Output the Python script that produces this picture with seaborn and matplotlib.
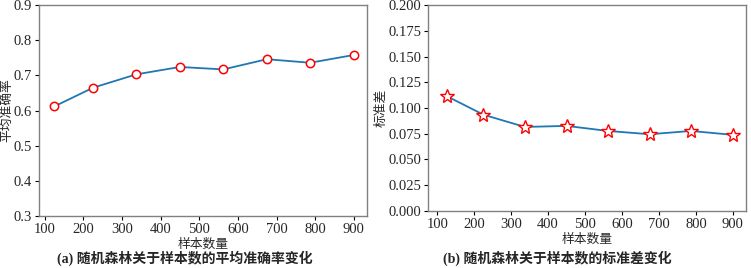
import matplotlib
matplotlib.use('Agg')
import matplotlib.pyplot as plt
import seaborn as sns
import pandas as pd

sns.set_style('ticks')
plt.rcParams['font.family'] = ['Liberation Serif', 'Noto Sans CJK SC']
plt.rcParams['axes.unicode_minus'] = False

# sample sizes and results
n_samples = [125, 225, 337, 450, 562, 675, 787, 900]
mean_acc = [0.612, 0.665, 0.703, 0.724, 0.717, 0.746, 0.736, 0.758]
std_acc = [0.1116, 0.0935, 0.0816, 0.0826, 0.0777, 0.0745, 0.0777, 0.0739]

acc_ticks = [0.3, 0.4, 0.5, 0.6, 0.7, 0.8, 0.9]
std_ticks = [0.000, 0.025, 0.050, 0.075, 0.100, 0.125, 0.150, 0.175, 0.200]
x_ticks = [100, 200, 300, 400, 500, 600, 700, 800, 900]

df = pd.DataFrame({'n': n_samples, 'mean': mean_acc, 'std': std_acc})

fig = plt.figure(figsize=(7.51, 2.68), dpi=100)
ax1 = fig.add_axes([0.052, 0.194, 0.437, 0.787])
ax2 = fig.add_axes([0.570, 0.213, 0.423, 0.768])

fs = 10.5
cjk = 9.2
grey = '#808080'

sns.lineplot(data=df, x='n', y='mean', ax=ax1, color='#1f77b4', lw=1.3,
             marker='o', markersize=6, markerfacecolor='white',
             markeredgecolor='red', markeredgewidth=1.1)
sns.lineplot(data=df, x='n', y='std', ax=ax2, color='#1f77b4', lw=1.3,
             marker='*', markersize=10, markerfacecolor='white',
             markeredgecolor='red', markeredgewidth=1.0)

ax1.set_ylim(0.3, 0.9)
ax1.set_yticks(acc_ticks)
ax1.set_yticklabels([f'{t:.1f}' for t in acc_ticks])
ax1.set_xlim(85, 935)
ax1.set_ylabel('平均准确率', fontsize=cjk)
ax1.yaxis.set_label_coords(-0.080, 0.5)

ax2.set_ylim(0, 0.2)
ax2.set_yticks(std_ticks)
ax2.set_yticklabels([f'{t:.3f}' for t in std_ticks])
ax2.set_xlim(75, 935)
ax2.set_ylabel('标准差', fontsize=cjk)
ax2.yaxis.set_label_coords(-0.126, 0.5)

for ax in (ax1, ax2):
    ax.set_xticks(x_ticks)
    ax.set_xlabel('样本数量', fontsize=cjk, labelpad=2)
    ax.tick_params(labelsize=fs, length=3, width=0.8, color='black', pad=2)
    for s in ax.spines.values():
        s.set_color(grey)
        s.set_linewidth(1.0)

fig.text(0.246, 0.02, '(a) 随机森林关于样本数的平均准确率变化', ha='center',
         fontsize=10, fontweight='bold')
fig.text(0.742, 0.02, '(b) 随机森林关于样本数的标准差变化', ha='center',
         fontsize=10, fontweight='bold')

fig.savefig('out.png', dpi=100)
